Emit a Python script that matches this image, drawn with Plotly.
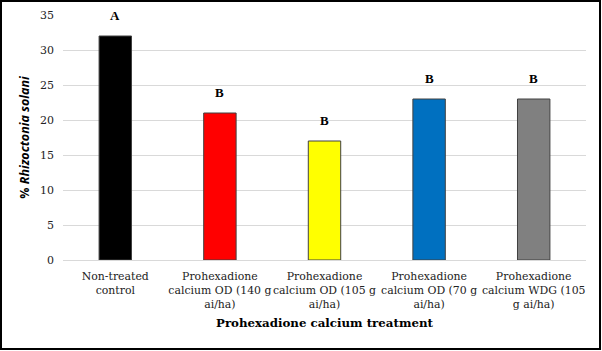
import plotly.graph_objects as go

categories = [
    "Non-treated<br>control",
    "Prohexadione<br>calcium OD (140 g<br>ai/ha)",
    "Prohexadione<br>calcium OD (105 g<br>ai/ha)",
    "Prohexadione<br>calcium OD (70 g<br>ai/ha)",
    "Prohexadione<br>calcium WDG (105<br>g ai/ha)",
]
values = [32, 21, 17, 23, 23]
letters = ["A", "B", "B", "B", "B"]
colors = ["#000000", "#ff0000", "#ffff00", "#0070c0", "#808080"]

W, H = 602, 351
L, R, T, B = 63, 16, 15, 91
pw, ph = W - L - R, H - T - B

fig = go.Figure()
fig.add_trace(go.Bar(
    x=categories, y=values,
    marker=dict(color=colors, line=dict(color="#404040", width=1)),
    width=0.31,
    hoverinfo="skip",
))

for c, v, s in zip(categories, values, letters):
    fig.add_annotation(x=c, y=v, text="<b>" + s + "</b>", showarrow=False,
                       yanchor="bottom", yshift=11,
                       font=dict(family="Liberation Serif", size=13, color="#000"))

serif = "DejaVu Serif"
fig.update_layout(
    width=W, height=H,
    margin=dict(l=L, r=R, t=T, b=B),
    paper_bgcolor="white", plot_bgcolor="white",
    showlegend=False,
    bargap=0.69,
    xaxis=dict(
        showgrid=False, showline=True, linecolor="#d9d9d9", linewidth=1,
        tickfont=dict(family=serif, size=10.9, color="#222"),
        tickangle=0, automargin=False,
        ticks="", ticklabelstandoff=6,
        title=dict(text="<b>Prohexadione calcium treatment</b>",
                   font=dict(family=serif, size=11.8, color="#000"), standoff=8),
    ),
    yaxis=dict(
        range=[0, 35], dtick=5,
        showgrid=True, gridcolor="#d9d9d9", gridwidth=1,
        zeroline=False, showline=False, automargin=False,
        tickfont=dict(family=serif, size=11, color="#222"),
        ticks="", ticklabelstandoff=8,
        title=dict(text="<b>% <i>Rhizoctonia solani</i></b>",
                   font=dict(family="Open Sans", size=12.5, color="#000"), standoff=7),
    ),
    shapes=[dict(
        type="rect", xref="paper", yref="paper",
        x0=(1 - L) / pw, x1=(600 - L) / pw,
        y0=(T + ph - 349) / ph, y1=(T + ph - 1) / ph,
        line=dict(color="#000", width=2), fillcolor="rgba(0,0,0,0)", layer="above",
    )],
)

fig.write_html("out.html")
